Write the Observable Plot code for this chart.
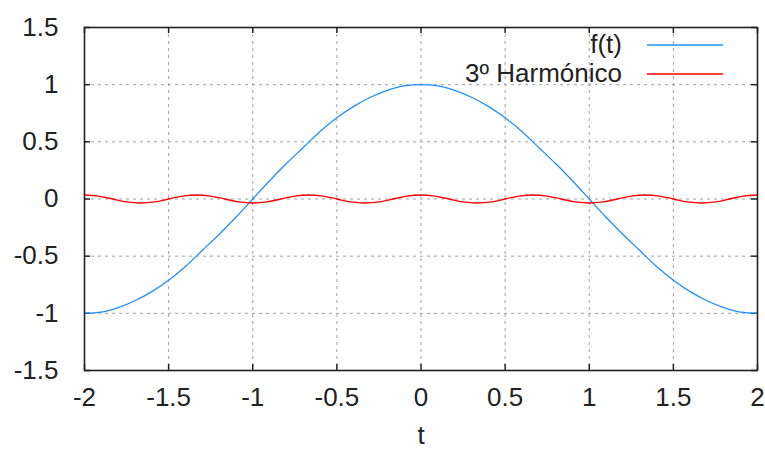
<!DOCTYPE html>
<html>
<head>
<meta charset="utf-8">
<script src="https://cdn.jsdelivr.net/npm/d3@7"></script>
<script src="https://cdn.jsdelivr.net/npm/@observablehq/plot@0.6"></script>
<style>
  html, body { margin: 0; padding: 0; background: #fff; }
</style>
</head>
<body>
<div id="chart"></div>
<script>
// ---- data ----
const xTicks = [-2, -1.5, -1, -0.5, 0, 0.5, 1, 1.5, 2];
const yTicks = [-1.5, -1, -0.5, 0, 0.5, 1, 1.5];

const seriesNames = ["f(t)", "3º Harmónico"];

const tF = [-2, -1.9, -1.8, -1.7, -1.6, -1.5, -1.4, -1.3, -1.2, -1.1, -1,
            -0.9, -0.8, -0.7, -0.6, -0.5, -0.4, -0.3, -0.2, -0.1, 0,
            0.1, 0.2, 0.3, 0.4, 0.5, 0.6, 0.7, 0.8, 0.9, 1,
            1.1, 1.2, 1.3, 1.4, 1.5, 1.6, 1.7, 1.8, 1.9, 2];
const fVals = [-1, -0.99, -0.95, -0.89, -0.81, -0.71, -0.59, -0.45, -0.31, -0.16, 0,
               0.16, 0.31, 0.45, 0.59, 0.71, 0.81, 0.89, 0.95, 0.99, 1,
               0.99, 0.95, 0.89, 0.81, 0.71, 0.59, 0.45, 0.31, 0.16, 0,
               -0.16, -0.31, -0.45, -0.59, -0.71, -0.81, -0.89, -0.95, -0.99, -1];

const tH = [-2, -1.917, -1.833, -1.75, -1.667, -1.583, -1.5, -1.417,
            -1.333, -1.25, -1.167, -1.083, -1, -0.917, -0.833, -0.75,
            -0.667, -0.583, -0.5, -0.417, -0.333, -0.25, -0.167, -0.083,
            0, 0.083, 0.167, 0.25, 0.333, 0.417, 0.5, 0.583,
            0.667, 0.75, 0.833, 0.917, 1, 1.083, 1.167, 1.25,
            1.333, 1.417, 1.5, 1.583, 1.667, 1.75, 1.833, 1.917, 2];
const hVals = [0.035, 0.025, 0, -0.025, -0.035, -0.025, 0, 0.025,
               0.035, 0.025, 0, -0.025, -0.035, -0.025, 0, 0.025,
               0.035, 0.025, 0, -0.025, -0.035, -0.025, 0, 0.025,
               0.035, 0.025, 0, -0.025, -0.035, -0.025, 0, 0.025,
               0.035, 0.025, 0, -0.025, -0.035, -0.025, 0, 0.025,
               0.035, 0.025, 0, -0.025, -0.035, -0.025, 0, 0.025,
               0.035];

// ---- build tables ----
const fData = tF.map((t, i) => ({t, v: fVals[i]}));
const hData = tH.map((t, i) => ({t, v: hVals[i]}));

const W = 765, H = 450, mL = 84, mR = 8, mT = 27, mB = 80;
const plotW = W - mL - mR, plotH = H - mT - mB;
const tickLen = 6;
const fs = 26;
const font = "'Liberation Sans', Arial, sans-serif";
const ink = "#222";
const colors = ["#1e90ff", "#ff0000"];
const fmt = d => String(d);

const chart = Plot.plot({
  width: W, height: H,
  marginLeft: mL, marginRight: mR, marginTop: mT, marginBottom: mB,
  style: {fontFamily: font, fontSize: fs + "px", color: ink, background: "#fff"},
  x: {domain: [-2, 2], label: null},
  y: {domain: [-1.5, 1.5], label: null},
  marks: [
    Plot.gridX({ticks: xTicks, stroke: "#a0a0a0", strokeOpacity: 1, strokeWidth: 1, strokeDasharray: "3,4"}),
    Plot.gridY({ticks: yTicks, stroke: "#a0a0a0", strokeOpacity: 1, strokeWidth: 1, strokeDasharray: "3,4"}),
    Plot.tickX(xTicks, {x: d => d, insetTop: plotH - tickLen, stroke: ink, strokeWidth: 1.5}),
    Plot.tickX(xTicks, {x: d => d, insetBottom: plotH - tickLen, stroke: ink, strokeWidth: 1.5}),
    Plot.tickY(yTicks, {y: d => d, insetRight: plotW - tickLen, stroke: ink, strokeWidth: 1.5}),
    Plot.tickY(yTicks, {y: d => d, insetLeft: plotW - tickLen, stroke: ink, strokeWidth: 1.5}),
    Plot.line(fData, {x: "t", y: "v", stroke: colors[0], strokeWidth: 1.3, curve: "monotone-x"}),
    Plot.line(hData, {x: "t", y: "v", stroke: colors[1], strokeWidth: 1.3, curve: "monotone-x"}),
    Plot.frame({stroke: ink, strokeWidth: 1.6}),
    Plot.axisX({ticks: xTicks, tickSize: 0, tickPadding: 17, tickFormat: fmt, fontSize: fs, label: null}),
    Plot.axisY({ticks: yTicks, tickSize: 0, tickPadding: 26, tickFormat: fmt, fontSize: fs, label: null}),
    Plot.text(["t"], {frameAnchor: "bottom", dy: 73, lineAnchor: "bottom", fontSize: fs, fill: ink})
  ]
});

// ---- legend (inside plot, top right) ----
const svg = d3.select(chart);
const lg = svg.append("g").attr("font-family", font).attr("font-size", fs).attr("fill", ink);
const textRight = W - mR - 135;
const lineX1 = W - mR - 110, lineX2 = W - mR - 34;
seriesNames.forEach((name, i) => {
  const yLine = mT + 18 + i * 29;
  lg.append("text").attr("x", textRight).attr("y", yLine + 8).attr("text-anchor", "end").text(name);
  lg.append("line").attr("x1", lineX1).attr("x2", lineX2).attr("y1", yLine).attr("y2", yLine)
    .attr("stroke", colors[i]).attr("stroke-width", 1.5);
});

document.getElementById("chart").appendChild(chart);
</script>
</body>
</html>
